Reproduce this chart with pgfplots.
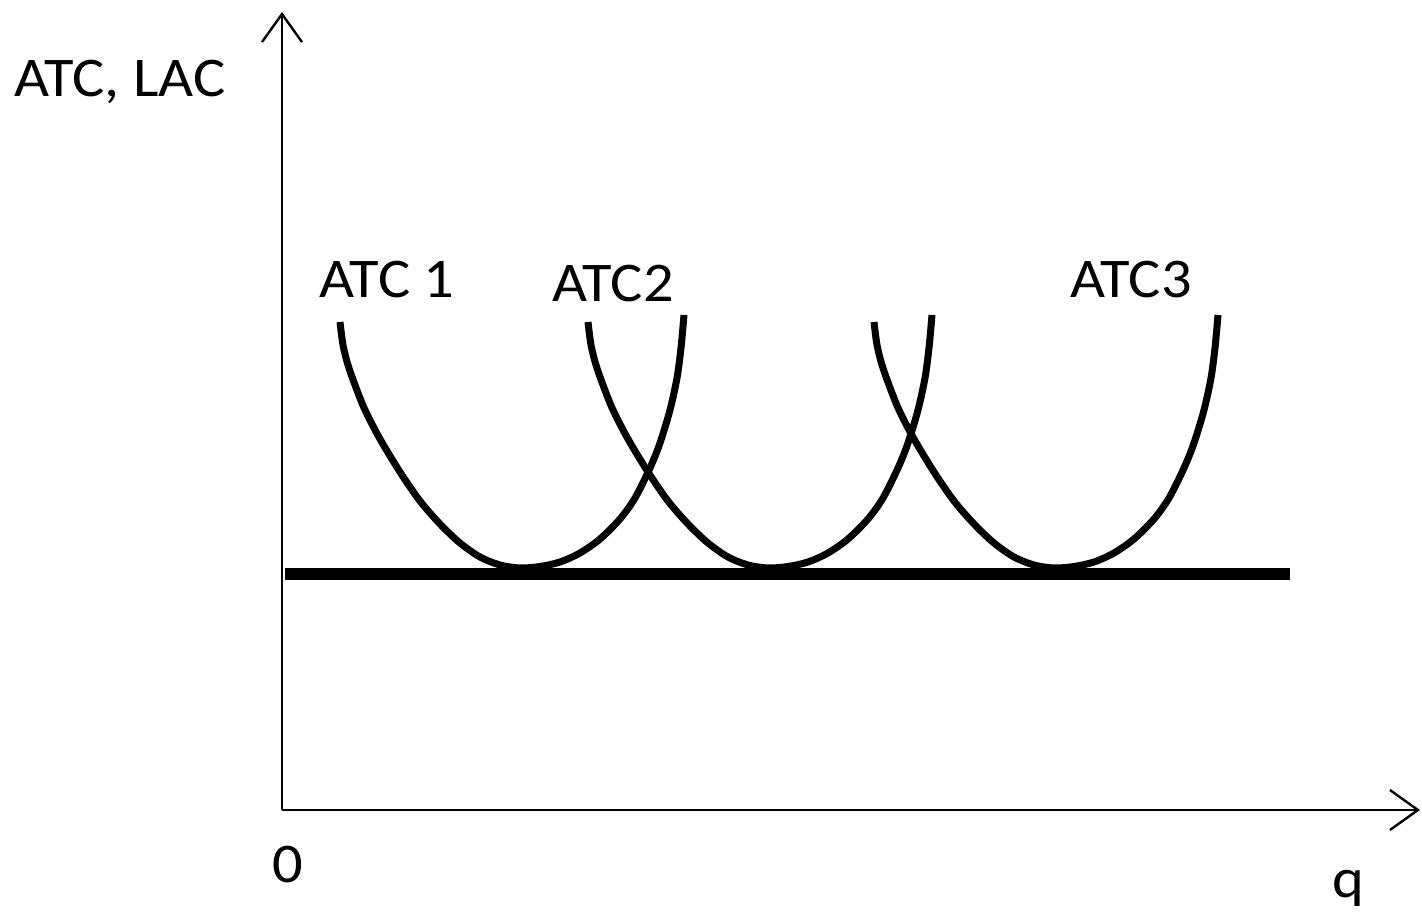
\documentclass[border=0pt]{standalone}
\usepackage{pgfplots}
\pgfplotsset{compat=1.18}
\usepackage{fontspec}
\setmainfont{Carlito}[FakeStretch=1.08]
\usetikzlibrary{arrows.meta}
\begin{document}
\begin{tikzpicture}
\begin{axis}[
  scale only axis,
  width=569pt, height=399pt,
  xmin=0, xmax=1138, ymin=0, ymax=798,
  axis lines=left,
  axis line style={line width=1.2pt, -{Straight Barb[length=14pt,width=20pt,line width=1.2pt]}},
  xtick=\empty, ytick=\empty,
  clip=false,
]
\path (axis cs:-282,-101) rectangle (axis cs:1140,810);
% LAC
\addplot[line width=6pt, black] coordinates {(3,236) (1008,236)};
% ATC1
\addplot[line width=3.5pt, black, smooth, tension=0.5] coordinates {
(58,488) (61,465) (66,445) (73,425) (83,400) (98,371) (118,338) (138,309) (158,286) (178,267) (198,253) (218,245) (238,242)
(258,243.5) (278,248) (298,257) (318,271) (338,291) (353,312) (368,342) (378,367) (388,400) (395,432) (399,462) (402,495)};
% ATC2
\addplot[line width=3.5pt, black, smooth, tension=0.5] coordinates {
(306,488) (309,465) (314,445) (321,425) (331,400) (346,371) (366,338) (386,309) (406,286) (426,267) (446,253) (466,245) (486,242)
(506,243.5) (526,248) (546,257) (566,271) (586,291) (601,312) (616,342) (626,367) (636,400) (643,432) (647,462) (650,495)};
% ATC3
\addplot[line width=3.5pt, black, smooth, tension=0.5] coordinates {
(592,488) (595,465) (600,445) (607,425) (617,400) (632,371) (652,338) (672,309) (692,286) (712,267) (732,253) (752,245) (772,242)
(792,243.5) (812,248) (832,257) (852,271) (872,291) (887,312) (902,342) (912,367) (922,400) (929,432) (933,462) (936,495)};
\node[anchor=base, font=\fontsize{28}{32}\selectfont] at (axis cs:-162,713) {ATC, LAC};
\node[anchor=base, font=\fontsize{28}{32}\selectfont] at (axis cs:105,512) {ATC 1};
\node[anchor=base, font=\fontsize{28}{32}\selectfont] at (axis cs:331,508) {ATC2};
\node[anchor=base, font=\fontsize{28}{32}\selectfont] at (axis cs:849,512) {ATC3};
\node[anchor=base, font=\fontsize{28}{32}\selectfont] at (axis cs:6,-72) {0};
\node[anchor=base, font=\fontsize{28}{32}\selectfont] at (axis cs:1066,-87) {q};
\end{axis}
\end{tikzpicture}
\end{document}
